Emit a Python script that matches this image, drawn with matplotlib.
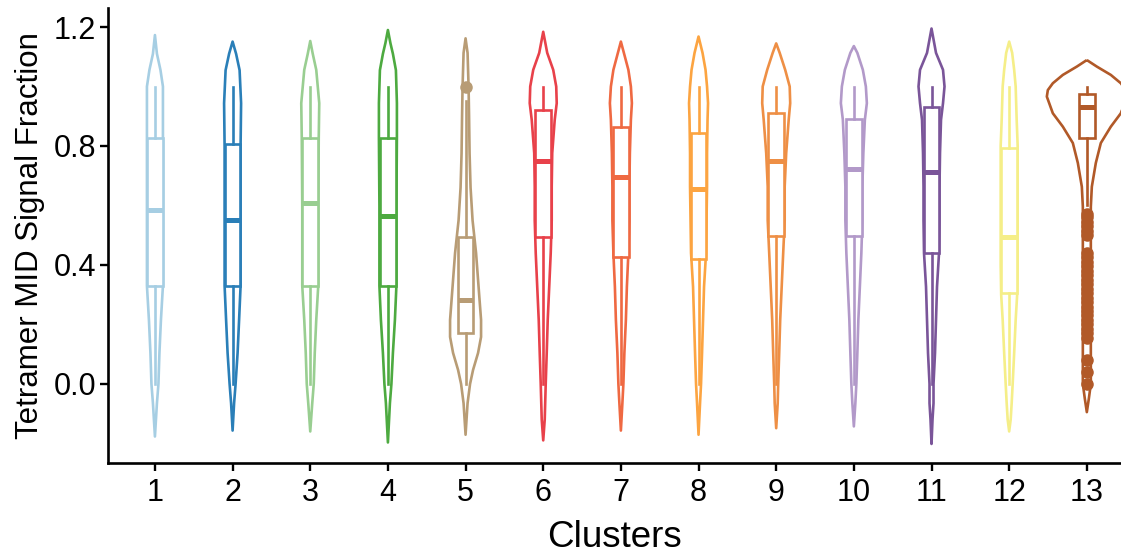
import matplotlib
matplotlib.use("Agg")
import matplotlib.pyplot as plt
import numpy as np

plt.rcParams['font.family'] = ['Liberation Sans', 'DejaVu Sans']

# ---------------- data ----------------
clusters = ["1", "2", "3", "4", "5", "6", "7", "8", "9", "10", "11", "12", "13"]
colors = ["#A6CEE3", "#2A7FB8", "#99CE91", "#4DAA40", "#B89C75", "#E8414A", "#EF6942",
          "#FCA441", "#EE8F45", "#B299C9", "#7A5599", "#F5EE88", "#B15928"]

# box-plot statistics
q1 = [0.33, 0.33, 0.33, 0.33, 0.17, 0.495, 0.426, 0.42, 0.497, 0.497, 0.439, 0.305, 0.826]
med = [0.585, 0.55, 0.607, 0.565, 0.282, 0.751, 0.695, 0.654, 0.75, 0.723, 0.712, 0.495, 0.93]
q3 = [0.826, 0.807, 0.826, 0.828, 0.495, 0.921, 0.865, 0.845, 0.91, 0.89, 0.93, 0.794, 0.975]
whislo = [0.0, 0.0, 0.0, 0.0, 0.0, 0.0, 0.0, 0.0, 0.0, 0.0, 0.0, 0.0, 0.6]
whishi = [1.0, 1.0, 1.0, 1.0, 0.95, 1.0, 1.0, 1.0, 1.0, 1.0, 1.0, 1.0, 1.0]
outliers_5 = [1.0]
outliers_13 = [0.57, 0.56, 0.545, 0.53, 0.515, 0.50, 0.44, 0.425, 0.41, 0.395, 0.38, 0.365,
               0.35, 0.335, 0.32, 0.305, 0.29, 0.275, 0.26, 0.245, 0.23, 0.215, 0.20, 0.185,
               0.17, 0.155, 0.08, 0.04, 0.0]

# violin density profiles (value levels, relative density)
vy1 = [1.173, 1.11, 1.056, 1.0, 0.83, 0.6, 0.33, 0.215, 0.104, 0.0, -0.065, -0.177]
vd1 = [0, 4, 11, 16, 16, 16, 16, 12, 9, 7, 4, 0]
vy2 = [1.151, 1.11, 1.055, 0.944, 0.8, 0.55, 0.33, 0.215, 0.104, 0.0, -0.065, -0.157]
vd2 = [0, 7, 14, 17, 16, 16, 16, 13, 10, 6, 3, 0]
vy3 = [1.153, 1.11, 1.056, 0.944, 0.83, 0.6, 0.33, 0.215, 0.104, 0.0, -0.065, -0.16]
vd3 = [0, 5, 12, 18, 17, 16, 16, 12, 9, 7, 4, 0]
vy4 = [1.19, 1.146, 1.11, 1.055, 0.944, 0.83, 0.6, 0.33, 0.215, 0.104, 0.0, -0.065, -0.197]
vd4 = [0, 5, 10, 16, 18, 18, 17, 17, 14, 10, 7, 4, 0]
vy5 = [1.162, 1.113, 1.056, 1.0, 0.9, 0.776, 0.66, 0.55, 0.44, 0.327, 0.215, 0.158, 0.104,
       0.047, 0.0, -0.065, -0.171]
vd5 = [0, 4, 5, 6, 7, 8, 10, 14, 21, 26, 31, 31, 25, 15, 9, 4, 0]
vy6 = [1.184, 1.113, 1.056, 1.0, 0.944, 0.888, 0.776, 0.664, 0.55, 0.44, 0.327, 0.215, 0.104,
       0.0, -0.12, -0.19]
vd6 = [0, 8, 20, 26, 27, 23, 18, 17, 17, 15, 12, 9, 7, 5, 3, 0]
vy7 = [1.151, 1.113, 1.056, 1.0, 0.944, 0.888, 0.776, 0.664, 0.55, 0.44, 0.327, 0.215, 0.104,
       0.0, -0.065, -0.157]
vd7 = [0, 6, 15, 20, 22, 20, 18, 17, 17, 15, 12, 10, 7, 5, 3, 0]
vy8 = [1.168, 1.113, 1.056, 1.0, 0.944, 0.888, 0.776, 0.664, 0.55, 0.44, 0.327, 0.215, 0.104,
       0.0, -0.065, -0.171]
vd8 = [0, 8, 14, 17, 19, 18, 17, 17, 16, 15, 11, 9, 7, 5, 3, 0]
vy9 = [1.145, 1.113, 1.056, 1.0, 0.944, 0.888, 0.776, 0.664, 0.55, 0.44, 0.327, 0.215, 0.104,
       0.0, -0.065, -0.149]
vd9 = [0, 7, 18, 27, 28, 25, 20, 17, 17, 14, 11, 8, 6, 4, 3, 0]
vy10 = [1.136, 1.113, 1.056, 1.0, 0.944, 0.888, 0.776, 0.664, 0.55, 0.44, 0.327, 0.215, 0.104,
        0.0, -0.065, -0.143]
vd10 = [0, 7, 18, 24, 26, 22, 19, 17, 17, 15, 12, 9, 7, 5, 3, 0]
vy11 = [1.195, 1.113, 1.056, 1.0, 0.944, 0.888, 0.776, 0.664, 0.55, 0.44, 0.327, 0.215, 0.104,
        0.0, -0.065, -0.12, -0.202]
vd11 = [0, 9, 23, 26, 23, 19, 17, 16, 16, 15, 11, 9, 7, 4, 4, 2, 0]
vy12 = [1.151, 1.113, 1.056, 1.0, 0.888, 0.8, 0.6, 0.4, 0.3, 0.215, 0.104, 0.0, -0.065, -0.12, -0.16]
vd12 = [0, 6, 10, 13, 15, 17, 17, 17, 16, 13, 10, 7, 5, 3, 0]
vy13 = [1.089, 1.067, 1.039, 1.011, 0.988, 0.966, 0.91, 0.865, 0.81, 0.743, 0.663, 0.596, 0.3,
        0.0, -0.05, -0.095]
vd13 = [0, 20, 48, 68, 78, 80, 68, 48, 28, 18, 10, 8, 8, 8, 4, 0]

yticks = [0.0, 0.4, 0.8, 1.2]
ytick_labels = ["0.0", "0.4", "0.8", "1.2"]

violin_y = [vy1, vy2, vy3, vy4, vy5, vy6, vy7, vy8, vy9, vy10, vy11, vy12, vy13]
violin_d = [vd1, vd2, vd3, vd4, vd5, vd6, vd7, vd8, vd9, vd10, vd11, vd12, vd13]
fliers = [[], [], [], [], outliers_5, [], [], [], [], [], [], [], outliers_13]

# ---------------- figure ----------------
fig = plt.figure(figsize=(11.21, 5.56), dpi=100)
ax = fig.add_axes([0.0963, 0.1673, 0.9037, 0.8183])

DENS_SCALE = 0.5 / 77.67   # relative density -> half width in x units
positions = np.arange(1, len(clusters) + 1)
LW = 1.9

for i, pos in enumerate(positions):
    c = colors[i]
    y = np.array(violin_y[i])
    hw = np.array(violin_d[i]) * DENS_SCALE
    ax.fill_betweenx(y, pos - hw, pos + hw, facecolor="none", edgecolor=c,
                     linewidth=LW, joinstyle="round", zorder=2)
    stats = [dict(med=med[i], q1=q1[i], q3=q3[i], whislo=whislo[i], whishi=whishi[i],
                  fliers=fliers[i])]
    ax.bxp(stats, positions=[pos], widths=0.2, showcaps=False, patch_artist=True,
           manage_ticks=False, zorder=3,
           boxprops=dict(facecolor="white", edgecolor=c, linewidth=LW),
           whiskerprops=dict(color=c, linewidth=LW),
           medianprops=dict(color=c, linewidth=3.6, solid_capstyle="butt"),
           flierprops=dict(marker="o", markersize=8, markerfacecolor=c,
                           markeredgecolor=c, linestyle="none"))

ax.set_xlim(0.395, 13.44)
ax.set_ylim(-0.266, 1.264)
ax.set_xticks(positions)
ax.set_xticklabels(clusters)
ax.set_yticks(yticks)
ax.set_yticklabels(ytick_labels)

for side in ["top", "right"]:
    ax.spines[side].set_visible(False)
for side in ["left", "bottom"]:
    ax.spines[side].set_linewidth(1.9)
    ax.spines[side].set_color("black")

ax.tick_params(axis="both", direction="out", length=5.5, width=1.7, color="black",
               labelsize=22, labelcolor="black")
ax.tick_params(axis="y", pad=3)
ax.tick_params(axis="x", pad=5)

ax.set_xlabel("Clusters", fontsize=26.5, labelpad=9)
ax.set_ylabel("Tetramer MID Signal Fraction", fontsize=22.5, labelpad=6)

fig.savefig("out.png", dpi=100)
